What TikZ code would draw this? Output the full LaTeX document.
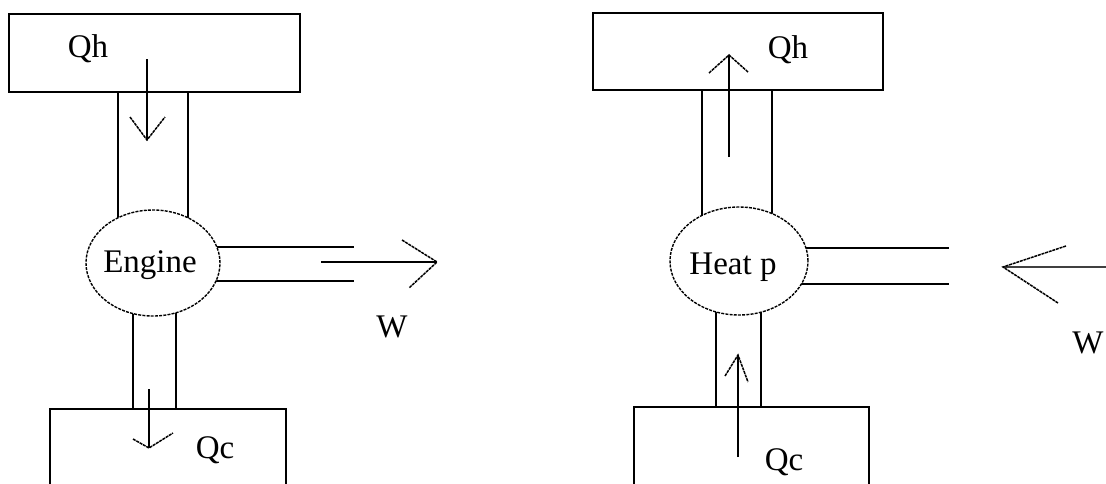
\documentclass[tikz,border=0pt]{standalone}
\usepackage{fontspec}
\setmainfont{Liberation Serif}
\usetikzlibrary{shapes.geometric}
\begin{document}
\begin{tikzpicture}[x=1pt,y=-1pt,
  wire/.style={line width=1.8pt},
  thinwire/.style={line width=1.3pt},
  thickwire/.style={line width=2.2pt},
  headline/.style={line width=1.5pt, dash pattern=on 3pt off 0.8pt},
  device/.style={ellipse, draw, fill=white, line width=1.4pt, dash pattern=on 3pt off 1.2pt, inner sep=0pt},
  lbl/.style={font=\fontsize{33}{38}\selectfont, anchor=base, inner sep=0pt}]
\useasboundingbox (0,0) rectangle (1106,483);
\clip (0,0) rectangle (1106,483);
\fill[white] (0,0) rectangle (1106,483);

% ================= Engine (left) =================
% hot reservoir
\draw[wire] (9,14) rectangle (300,92);
\node[lbl] (qhL) at (88,57) {Qh};
% channels (drawn to ellipse centre, covered by ellipse)
\draw[thinwire] (118,92) -- (118,263);
\draw[wire] (188,92) -- (188,263);
\draw[wire] (153,247) -- (354,247);
\draw[wire] (153,281) -- (354,281);
\draw[thickwire] (133,263) -- (133,409);
\draw[thickwire] (176,263) -- (176,409);
% cold reservoir
\draw[wire] (50,495) -- (50,409) -- (286,409) -- (286,495);
\node[lbl] (qcL) at (215,458) {Qc};
% engine
\node[device, minimum width=134pt, minimum height=106pt] (eng) at (153,263) {};
\node[lbl] (engt) at (150,272) {Engine};
% Qh arrow
\coordinate (qhLs) at (147,59);
\coordinate (qhLt) at (147,140);
\draw[wire] (qhLs) -- (qhLt);
\draw[headline] (130,117) -- (qhLt) -- (165,117);
% Qc arrow
\coordinate (qcLs) at (149,389);
\coordinate (qcLt) at (149,448);
\draw[wire] (qcLs) -- (qcLt);
\draw[headline] (133,439) -- (qcLt) -- (173,433);
% W arrow
\coordinate (wLs) at (321,262);
\coordinate (wLt) at (437,262);
\draw[wire] (wLs) -- (wLt);
\draw[headline] (402,240) -- (wLt) -- (409,288);
\node[lbl] (wL) at (392,337) {W};

% ================= Heat pump (right) =================
\draw[wire] (593,13) rectangle (883,90);
\node[lbl] (qhR) at (788,58) {Qh};
\draw[wire] (702,90) -- (702,261);
\draw[wire] (772,90) -- (772,261);
\draw[thinwire] (739,248) -- (949,248);
\draw[wire] (739,284) -- (949,284);
\draw[thinwire] (716,261) -- (716,407);
\draw[thickwire] (761,261) -- (761,407);
\draw[wire] (634,495) -- (634,407) -- (869,407) -- (869,495);
\node[lbl] (qcR) at (784,470) {Qc};
\node[device, minimum width=138pt, minimum height=108pt] (hp) at (739,261) {};
\node[lbl] (hpt) at (733,274) {Heat p};
% Qh arrow (up)
\coordinate (qhRs) at (729,157);
\coordinate (qhRt) at (729,55);
\draw[wire] (qhRs) -- (qhRt);
\draw[headline] (709,73) -- (qhRt) -- (748,72);
% Qc arrow (up)
\coordinate (qcRs) at (738,457);
\coordinate (qcRt) at (738,355);
\draw[wire] (qcRs) -- (qcRt);
\draw[headline] (725,376) -- (qcRt) -- (748,382);
% W arrow (left)
\coordinate (wRs) at (1110,267);
\coordinate (wRt) at (1003,267);
\draw[thinwire, black!75] (wRs) -- (wRt);
\draw[headline] (1066,246) -- (wRt) -- (1058,303);
\node[lbl] (wR) at (1088,353) {W};
\end{tikzpicture}
\end{document}
